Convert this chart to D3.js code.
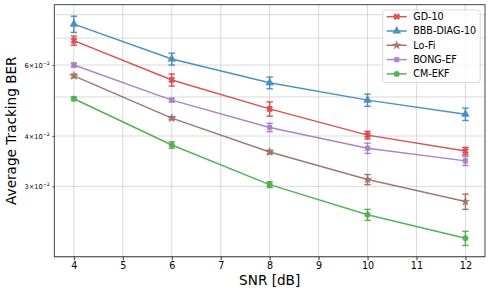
<!DOCTYPE html>
<html>
<head>
<meta charset="utf-8">
<script src="https://d3js.org/d3.v7.min.js"></script>
<style>
  body { margin: 0; background: #fff; }
  text { font-family: "DejaVu Sans", sans-serif; }
</style>
</head>
<body>
<div id="chart"></div>
<script>
// data
var snr = [4, 6, 8, 10, 12]
var seriesNames = ["GD-10", "BBB-DIAG-10", "Lo-Fi", "BONG-EF", "CM-EKF"]
var gd10 =    [0.0690, 0.0551, 0.0467, 0.0402, 0.0367]
var gd10Err = [0.0018, 0.0019, 0.0019, 0.0009, 0.0008]
var bbb =     [0.0758, 0.0621, 0.0542, 0.0491, 0.0453]
var bbbErr =  [0.0035, 0.0021, 0.0018, 0.0017, 0.0016]
var lofi =    [0.0564, 0.0443, 0.0365, 0.0312, 0.0275]
var lofiErr = [0.0006, 0.0004, 0.0004, 0.0009, 0.0012]
var bong =    [0.0600, 0.0491, 0.0420, 0.0373, 0.0347]
var bongErr = [0.0007, 0.0005, 0.0010, 0.0011, 0.0009]
var cmekf =   [0.0495, 0.0380, 0.0303, 0.0255, 0.0223]
var cmekfErr= [0.0005, 0.0007, 0.0005, 0.0008, 0.0009]
var yTickVals = [0.03, 0.04, 0.06]
var yTickLabels = ["3", "4", "6"]
var yGridVals = [0.02, 0.03, 0.04, 0.05, 0.06, 0.07, 0.08]

var colors = ["#d62728", "#1f77b4", "#8c564b", "#9467bd", "#2ca02c"]
var shapes = ["x", "triangle", "star", "square", "circle"]
var values = [gd10, bbb, lofi, bong, cmekf]
var errs = [gd10Err, bbbErr, lofiErr, bongErr, cmekfErr]

var width = 490, height = 292
var margin = {left: 54.3, top: 4.7, right: 5, bottom: 35.3}
var w = width - margin.left - margin.right
var h = height - margin.top - margin.bottom

var svg = d3.select("#chart").append("svg")
    .attr("width", width).attr("height", height)

var x = d3.scaleLinear().domain([3.6, 12.4]).range([0, w])
var y = d3.scaleLog().domain([0.02007, 0.0847]).range([h, 0])

var g = svg.append("g").attr("transform", "translate(" + margin.left + "," + margin.top + ")")

// grid
g.append("g").selectAll("line").data(d3.range(4, 13)).enter().append("line")
    .attr("x1", d => x(d)).attr("x2", d => x(d)).attr("y1", 0).attr("y2", h)
    .attr("stroke", "#b0b0b0").attr("stroke-opacity", 0.6).attr("stroke-width", 0.8)
g.append("g").selectAll("line").data(yGridVals).enter().append("line")
    .attr("x1", 0).attr("x2", w).attr("y1", d => y(d)).attr("y2", d => y(d))
    .attr("stroke", "#b0b0b0").attr("stroke-opacity", 0.6).attr("stroke-width", 0.8)

// axes
var xAxis = g.append("g").attr("transform", "translate(0," + h + ")")
    .call(d3.axisBottom(x).tickValues(d3.range(4, 13)).tickFormat(d3.format("d")).tickSize(3.5).tickPadding(1.5))
xAxis.select(".domain").remove()
xAxis.selectAll("text").attr("font-size", "9.6px").attr("fill", "#000")
xAxis.selectAll("line").attr("stroke", "#000").attr("stroke-width", 0.8)

var yAxis = g.append("g")
    .call(d3.axisLeft(y).tickValues(yTickVals).tickFormat("").tickSize(2).tickPadding(2))
yAxis.select(".domain").remove()
yAxis.selectAll("line").attr("stroke", "#000").attr("stroke-width", 0.6)
yAxis.selectAll(".tick").each(function(d, i) {
  var t = d3.select(this).append("text")
      .attr("x", -4.5).attr("dy", "0.32em").attr("text-anchor", "end")
      .attr("font-size", "6.6px").attr("fill", "#000")
  t.append("tspan").text(yTickLabels[i] + "\u00d710")
  t.append("tspan").attr("font-size", "4.8px").attr("dy", "-0.6em").text("\u22122")
})

g.append("rect").attr("width", w).attr("height", h)
    .attr("fill", "none").attr("stroke", "#333").attr("stroke-width", 0.9)

// labels
svg.append("text").attr("x", margin.left + x(8)).attr("y", 284.5)
    .attr("text-anchor", "middle").attr("font-size", "13.6px").text("SNR [dB]")
svg.append("text").attr("transform", "translate(16," + (margin.top + h / 2) + ") rotate(-90)")
    .attr("text-anchor", "middle").attr("font-size", "13.6px").text("Average Tracking BER")

function marker(sel, shape, color, size) {
  var path
  if (shape === "triangle") path = d3.symbol().type(d3.symbolTriangle).size(size * 1.1)()
  else if (shape === "star") path = d3.symbol().type(d3.symbolStar).size(size * 0.9)()
  else if (shape === "square") path = d3.symbol().type(d3.symbolSquare).size(size * 0.9)()
  else if (shape === "circle") path = d3.symbol().type(d3.symbolCircle).size(size)()
  else path = d3.symbol().type(d3.symbolCross).size(size)()
  sel.append("path").attr("d", path)
      .attr("transform", shape === "x" ? "rotate(45)" : null)
      .attr("fill", color).attr("stroke", color).attr("stroke-width", 0.5)
}

var line = d3.line().x((d, i) => x(snr[i])).y(d => y(d))

values.forEach(function(vals, s) {
  var sg = g.append("g").attr("opacity", 0.8)
  sg.append("path").datum(vals).attr("d", line)
      .attr("fill", "none").attr("stroke", colors[s]).attr("stroke-width", 1.5)
  vals.forEach(function(v, i) {
    var e = errs[s][i], cx = x(snr[i])
    sg.append("line").attr("x1", cx).attr("x2", cx).attr("y1", y(v - e)).attr("y2", y(v + e))
        .attr("stroke", colors[s]).attr("stroke-width", 1.4)
    ;[v - e, v + e].forEach(function(c) {
      sg.append("line").attr("x1", cx - 3.2).attr("x2", cx + 3.2).attr("y1", y(c)).attr("y2", y(c))
          .attr("stroke", colors[s]).attr("stroke-width", 1.4)
    })
    var m = sg.append("g").attr("transform", "translate(" + cx + "," + y(v) + ")")
    marker(m, shapes[s], colors[s], 24)
  })
})

// legend
var lg = svg.append("g").attr("transform", "translate(382.7,10)")
lg.append("rect").attr("width", 97.5).attr("height", 72.5).attr("rx", 2.5)
    .attr("fill", "#fff").attr("fill-opacity", 0.8).attr("stroke", "#d0d0d0").attr("stroke-width", 0.8)
seriesNames.forEach(function(name, s) {
  var row = lg.append("g").attr("transform", "translate(0," + (6.7 + s * 14.3) + ")")
  var rg = row.append("g").attr("opacity", 0.8)
  rg.append("line").attr("x1", 4).attr("x2", 24).attr("y1", 0).attr("y2", 0)
      .attr("stroke", colors[s]).attr("stroke-width", 1.5)
  marker(rg.append("g").attr("transform", "translate(14,0)"), shapes[s], colors[s], 24)
  row.append("text").attr("x", 30.5).attr("dy", "0.35em").attr("font-size", "9.6px").text(name)
})
</script>
</body>
</html>
